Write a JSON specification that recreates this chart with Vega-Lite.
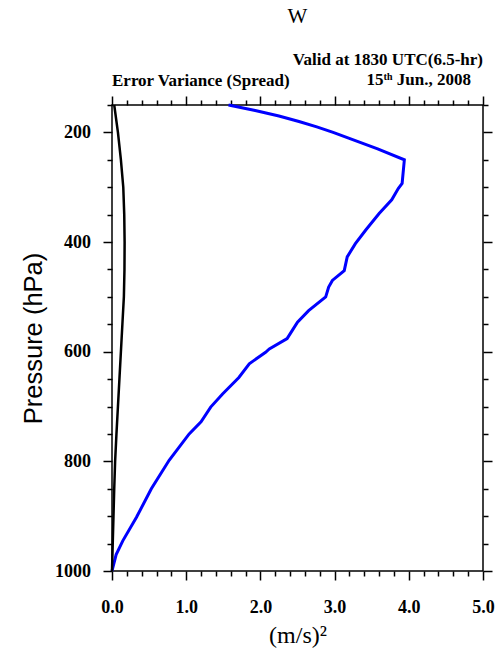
{
  "$schema": "https://vega.github.io/schema/vega-lite/v6.json",
  "width": 371,
  "height": 466,
  "autosize": {"type": "none"},
  "padding": {"left": 112, "top": 105, "right": 15, "bottom": 90},
  "background": "white",
  "title": {
    "text": "W",
    "anchor": "middle",
    "font": "Liberation Serif",
    "fontSize": 21,
    "fontWeight": "normal",
    "color": "#000",
    "offset": 24
  },
  "config": {
    "view": {"stroke": "#000", "strokeWidth": 1.5},
    "axis": {
      "domain": false,
      "grid": false,
      "tickColor": "#000",
      "tickWidth": 1.5,
      "labelColor": "#000",
      "titleColor": "#000",
      "labelFont": "Liberation Serif",
      "labelFontWeight": "bold",
      "labelFontSize": 18,
      "labelFlush": false,
      "labelOverlap": false
    }
  },
  "datasets": {
    "prof": [
      {"p": 150, "v": 1.57, "s": "spread"},
      {"p": 160, "v": 1.93, "s": "spread"},
      {"p": 170, "v": 2.25, "s": "spread"},
      {"p": 180, "v": 2.52, "s": "spread"},
      {"p": 190, "v": 2.76, "s": "spread"},
      {"p": 200, "v": 2.98, "s": "spread"},
      {"p": 215, "v": 3.28, "s": "spread"},
      {"p": 230, "v": 3.58, "s": "spread"},
      {"p": 250, "v": 3.94, "s": "spread"},
      {"p": 293, "v": 3.91, "s": "spread"},
      {"p": 302, "v": 3.86, "s": "spread"},
      {"p": 323, "v": 3.77, "s": "spread"},
      {"p": 348, "v": 3.6, "s": "spread"},
      {"p": 378, "v": 3.42, "s": "spread"},
      {"p": 403, "v": 3.28, "s": "spread"},
      {"p": 427, "v": 3.17, "s": "spread"},
      {"p": 452, "v": 3.13, "s": "spread"},
      {"p": 470, "v": 2.97, "s": "spread"},
      {"p": 482, "v": 2.92, "s": "spread"},
      {"p": 500, "v": 2.88, "s": "spread"},
      {"p": 525, "v": 2.65, "s": "spread"},
      {"p": 546, "v": 2.5, "s": "spread"},
      {"p": 561, "v": 2.43, "s": "spread"},
      {"p": 576, "v": 2.36, "s": "spread"},
      {"p": 595, "v": 2.12, "s": "spread"},
      {"p": 601, "v": 2.07, "s": "spread"},
      {"p": 622, "v": 1.85, "s": "spread"},
      {"p": 647, "v": 1.71, "s": "spread"},
      {"p": 677, "v": 1.49, "s": "spread"},
      {"p": 701, "v": 1.33, "s": "spread"},
      {"p": 728, "v": 1.2, "s": "spread"},
      {"p": 750, "v": 1.04, "s": "spread"},
      {"p": 798, "v": 0.77, "s": "spread"},
      {"p": 850, "v": 0.53, "s": "spread"},
      {"p": 902, "v": 0.33, "s": "spread"},
      {"p": 945, "v": 0.145, "s": "spread"},
      {"p": 970, "v": 0.056, "s": "spread"},
      {"p": 1000, "v": 0.0, "s": "spread"},
      {"p": 150, "v": 0.03, "s": "other"},
      {"p": 200, "v": 0.08, "s": "other"},
      {"p": 250, "v": 0.12, "s": "other"},
      {"p": 300, "v": 0.152, "s": "other"},
      {"p": 350, "v": 0.165, "s": "other"},
      {"p": 400, "v": 0.17, "s": "other"},
      {"p": 450, "v": 0.168, "s": "other"},
      {"p": 500, "v": 0.16, "s": "other"},
      {"p": 550, "v": 0.14, "s": "other"},
      {"p": 600, "v": 0.12, "s": "other"},
      {"p": 650, "v": 0.1, "s": "other"},
      {"p": 700, "v": 0.08, "s": "other"},
      {"p": 750, "v": 0.06, "s": "other"},
      {"p": 800, "v": 0.042, "s": "other"},
      {"p": 850, "v": 0.03, "s": "other"},
      {"p": 900, "v": 0.02, "s": "other"},
      {"p": 950, "v": 0.01, "s": "other"},
      {"p": 1000, "v": 0.0, "s": "other"}
    ]
  },
  "resolve": {"axis": {"x": "independent", "y": "independent"}},
  "layer": [
    {
      "data": {"name": "prof"},
      "transform": [{"filter": "datum.s === 'spread'"}],
      "mark": {"type": "line", "color": "#0000ff", "strokeWidth": 3},
      "encoding": {
        "x": {
          "field": "v", "type": "quantitative",
          "scale": {"domain": [0, 5], "nice": false, "zero": false},
          "axis": {
            "orient": "bottom",
            "values": [0, 1, 2, 3, 4, 5],
            "format": ".1f",
            "tickSize": 9,
            "labelPadding": 18,
            "title": "(m/s)²",
            "titleFont": "Liberation Serif",
            "titleFontSize": 24,
            "titleFontWeight": "normal",
            "titlePadding": 7
          }
        },
        "y": {
          "field": "p", "type": "quantitative",
          "scale": {"domain": [150, 1000], "reverse": true, "nice": false, "zero": false},
          "axis": {
            "orient": "left",
            "values": [200, 400, 600, 800, 1000],
            "format": "d",
            "tickSize": 9,
            "labelPadding": 12.5,
            "title": "Pressure (hPa)",
            "titleFont": "Liberation Sans",
            "titleFontSize": 25.5,
            "titleFontWeight": "normal",
            "titlePadding": 8
          }
        },
        "order": {"field": "p", "type": "quantitative"}
      }
    },
    {
      "data": {"name": "prof"},
      "transform": [{"filter": "datum.s === 'other'"}],
      "mark": {"type": "line", "color": "#000000", "strokeWidth": 2.5},
      "encoding": {
        "x": {
          "field": "v", "type": "quantitative",
          "scale": {"domain": [0, 5], "nice": false, "zero": false},
          "axis": {
            "orient": "bottom",
            "values": [0.2, 0.4, 0.6, 0.8, 1.2, 1.4, 1.6, 1.8, 2.2, 2.4, 2.6, 2.8, 3.2, 3.4, 3.6, 3.8, 4.2, 4.4, 4.6, 4.8],
            "tickSize": 5,
            "labels": false,
            "title": null
          }
        },
        "y": {
          "field": "p", "type": "quantitative",
          "scale": {"domain": [150, 1000], "reverse": true, "nice": false, "zero": false},
          "axis": {
            "orient": "left",
            "values": [150, 250, 300, 350, 450, 500, 550, 650, 700, 750, 850, 900, 950],
            "tickSize": 5,
            "labels": false,
            "title": null
          }
        },
        "order": {"field": "p", "type": "quantitative"}
      }
    },
    {
      "data": {"name": "prof"},
      "transform": [{"filter": "datum.s === 'spread'"}],
      "mark": {"type": "line", "strokeOpacity": 0},
      "encoding": {
        "x": {
          "field": "v", "type": "quantitative",
          "scale": {"domain": [0, 5], "nice": false, "zero": false},
          "axis": {
            "orient": "top",
            "values": [0, 1, 2, 3, 4, 5],
            "tickSize": 9,
            "labels": false,
            "title": null
          }
        },
        "y": {
          "field": "p", "type": "quantitative",
          "scale": {"domain": [150, 1000], "reverse": true, "nice": false, "zero": false},
          "axis": {
            "orient": "right",
            "values": [200, 400, 600, 800, 1000],
            "tickSize": 9,
            "labels": false,
            "title": null
          }
        },
        "order": {"field": "p", "type": "quantitative"}
      }
    },
    {
      "data": {"name": "prof"},
      "transform": [{"filter": "datum.s === 'other'"}],
      "mark": {"type": "line", "strokeOpacity": 0},
      "encoding": {
        "x": {
          "field": "v", "type": "quantitative",
          "scale": {"domain": [0, 5], "nice": false, "zero": false},
          "axis": {
            "orient": "top",
            "values": [0.2, 0.4, 0.6, 0.8, 1.2, 1.4, 1.6, 1.8, 2.2, 2.4, 2.6, 2.8, 3.2, 3.4, 3.6, 3.8, 4.2, 4.4, 4.6, 4.8],
            "tickSize": 5,
            "labels": false,
            "title": null
          }
        },
        "y": {
          "field": "p", "type": "quantitative",
          "scale": {"domain": [150, 1000], "reverse": true, "nice": false, "zero": false},
          "axis": {
            "orient": "right",
            "values": [150, 250, 300, 350, 450, 500, 550, 650, 700, 750, 850, 900, 950],
            "tickSize": 5,
            "labels": false,
            "title": null
          }
        },
        "order": {"field": "p", "type": "quantitative"}
      }
    },
    {
      "data": {"values": [{}]},
      "mark": {"type": "text", "text": "Error Variance (Spread)", "align": "left", "baseline": "alphabetic", "dy": -19.5, "font": "Liberation Serif", "fontWeight": "bold", "fontSize": 17, "color": "#000"},
      "encoding": {
        "x": {"datum": 0, "type": "quantitative", "axis": null},
        "y": {"datum": 150, "type": "quantitative", "axis": null}
      }
    },
    {
      "data": {"values": [{}]},
      "mark": {"type": "text", "text": "Valid at 1830 UTC(6.5-hr)", "align": "right", "baseline": "alphabetic", "dy": -40, "font": "Liberation Serif", "fontWeight": "bold", "fontSize": 17, "color": "#000"},
      "encoding": {
        "x": {"datum": 5, "type": "quantitative", "axis": null},
        "y": {"datum": 150, "type": "quantitative", "axis": null}
      }
    },
    {
      "data": {"values": [{}]},
      "mark": {"type": "text", "text": "15ᵗʰ Jun., 2008", "align": "right", "baseline": "alphabetic", "dx": -12, "dy": -20, "font": "Liberation Serif", "fontWeight": "bold", "fontSize": 17, "color": "#000"},
      "encoding": {
        "x": {"datum": 5, "type": "quantitative", "axis": null},
        "y": {"datum": 150, "type": "quantitative", "axis": null}
      }
    }
  ]
}
